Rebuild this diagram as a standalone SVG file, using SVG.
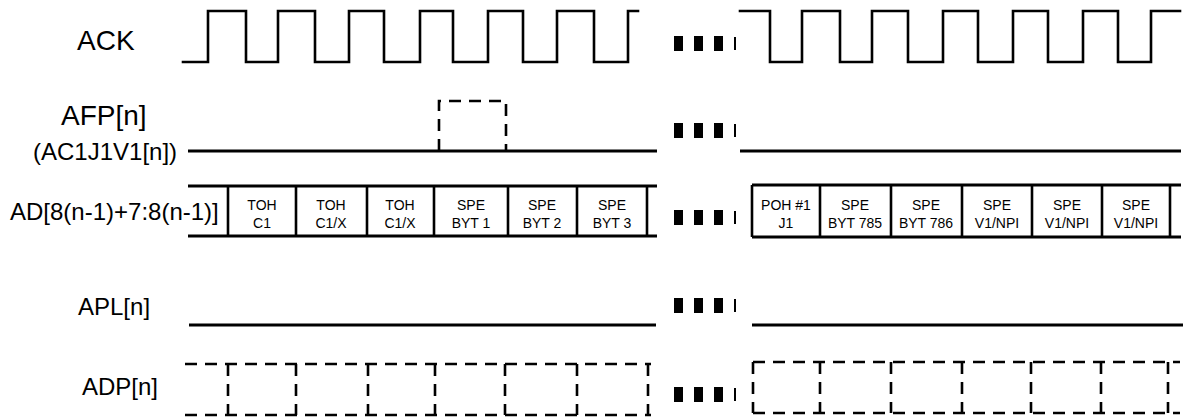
<svg xmlns="http://www.w3.org/2000/svg" width="1184" height="419" viewBox="0 0 1184 419">
<style>
.lbl{font-family:"Liberation Sans",Arial,sans-serif;fill:#000}
.big{font-size:28px}
.mid{font-size:24px}
.cell{font-family:"Liberation Sans",Arial,sans-serif;font-size:14px;fill:#000;text-anchor:middle}
.clk{fill:none;stroke:#000;stroke-width:2.6;stroke-linejoin:miter;stroke-linecap:square}
.sig{fill:none;stroke:#000;stroke-width:3.2}
.bus{fill:none;stroke:#000;stroke-width:3.2}
.div{fill:none;stroke:#000;stroke-width:2.6}
.dsh{fill:none;stroke:#000;stroke-width:2.6;stroke-dasharray:12 8}
</style>
<defs>
<g id="dots">
<rect x="0" y="0" width="9" height="15" fill="#000"/>
<rect x="20" y="0" width="9" height="15" fill="#000"/>
<rect x="40" y="0" width="9" height="15" fill="#000"/>
<rect x="60" y="1" width="2" height="13" fill="#000"/>
</g>
</defs>
<rect width="1184" height="419" fill="#fff"/>

<g id="ack">
<text class="lbl big" x="77" y="50">ACK</text>
<path class="clk" d="M183,62 H208 V11 H246 V62 H278 V11 H315 V62 H349 V11 H384 V62 H420 V11 H453 V62 H488 V11 H523 V62 H557 V11 H594 V62 H628 V11 H638"/>
<path class="clk" d="M740,11 H770 V62 H802 V11 H840 V62 H872 V11 H908 V62 H943 V11 H978 V62 H1013 V11 H1048 V62 H1083 V11 H1118 V62 H1151 V11 H1180"/>
<use href="#dots" x="674" y="36"/>
</g>

<g id="afp">
<text class="lbl big" x="61" y="125">AFP[n]</text>
<text class="lbl mid" x="33" y="160">(AC1J1V1[n])</text>
<path class="sig" d="M188,151 H657"/>
<path class="sig" d="M740,151 H1181"/>
<path class="dsh" d="M439,151 V101 H506 V151"/>
<use href="#dots" x="674" y="123"/>
</g>

<g id="ad">
<text class="lbl mid" x="10" y="220">AD[8(n-1)+7:8(n-1)]</text>
<path class="bus" d="M188,186 H657 M188,236 H657"/>
<path class="div" d="M228,186 V236 M296,186 V236 M367,186 V236 M434,186 V236 M508,186 V236 M577,186 V236 M647,186 V236"/>
<text class="cell" x="262" y="210">TOH</text><text class="cell" x="262" y="228">C1</text>
<text class="cell" x="331" y="210">TOH</text><text class="cell" x="331" y="228">C1/X</text>
<text class="cell" x="400" y="210">TOH</text><text class="cell" x="400" y="228">C1/X</text>
<text class="cell" x="471" y="210">SPE</text><text class="cell" x="471" y="228">BYT 1</text>
<text class="cell" x="542" y="210">SPE</text><text class="cell" x="542" y="228">BYT 2</text>
<text class="cell" x="612" y="210">SPE</text><text class="cell" x="612" y="228">BYT 3</text>
<path class="bus" d="M752,185 H1181 M752,237 H1181"/>
<path class="div" d="M752,185 V237 M820,185 V237 M891,185 V237 M962,185 V237 M1032,185 V237 M1102,185 V237 M1170,185 V237"/>
<text class="cell" x="786" y="210">POH #1</text><text class="cell" x="786" y="228">J1</text>
<text class="cell" x="855" y="210">SPE</text><text class="cell" x="855" y="228">BYT 785</text>
<text class="cell" x="926" y="210">SPE</text><text class="cell" x="926" y="228">BYT 786</text>
<text class="cell" x="997" y="210">SPE</text><text class="cell" x="997" y="228">V1/NPI</text>
<text class="cell" x="1067" y="210">SPE</text><text class="cell" x="1067" y="228">V1/NPI</text>
<text class="cell" x="1136" y="210">SPE</text><text class="cell" x="1136" y="228">V1/NPI</text>
<use href="#dots" x="674" y="210"/>
</g>

<g id="apl">
<text class="lbl mid" x="78" y="315">APL[n]</text>
<path class="sig" d="M189,325 H656"/>
<path class="sig" d="M752,325 H1183"/>
<use href="#dots" x="674" y="298"/>
</g>

<g id="adp">
<text class="lbl mid" x="82" y="395">ADP[n]</text>
<path class="dsh" d="M185,364 H651 M185,415 H651"/>
<path class="dsh" d="M228,364 V415 M296,364 V415 M368,364 V415 M435,364 V415 M505,364 V415 M577,364 V415 M648,364 V415"/>
<path class="dsh" d="M753,362 H1180 M753,413 H1180"/>
<path class="dsh" d="M753,362 V413 M820,362 V413 M891,362 V413 M962,362 V413 M1031,362 V413 M1101,362 V413 M1168,362 V413"/>
<use href="#dots" x="674" y="387"/>
</g>
</svg>
